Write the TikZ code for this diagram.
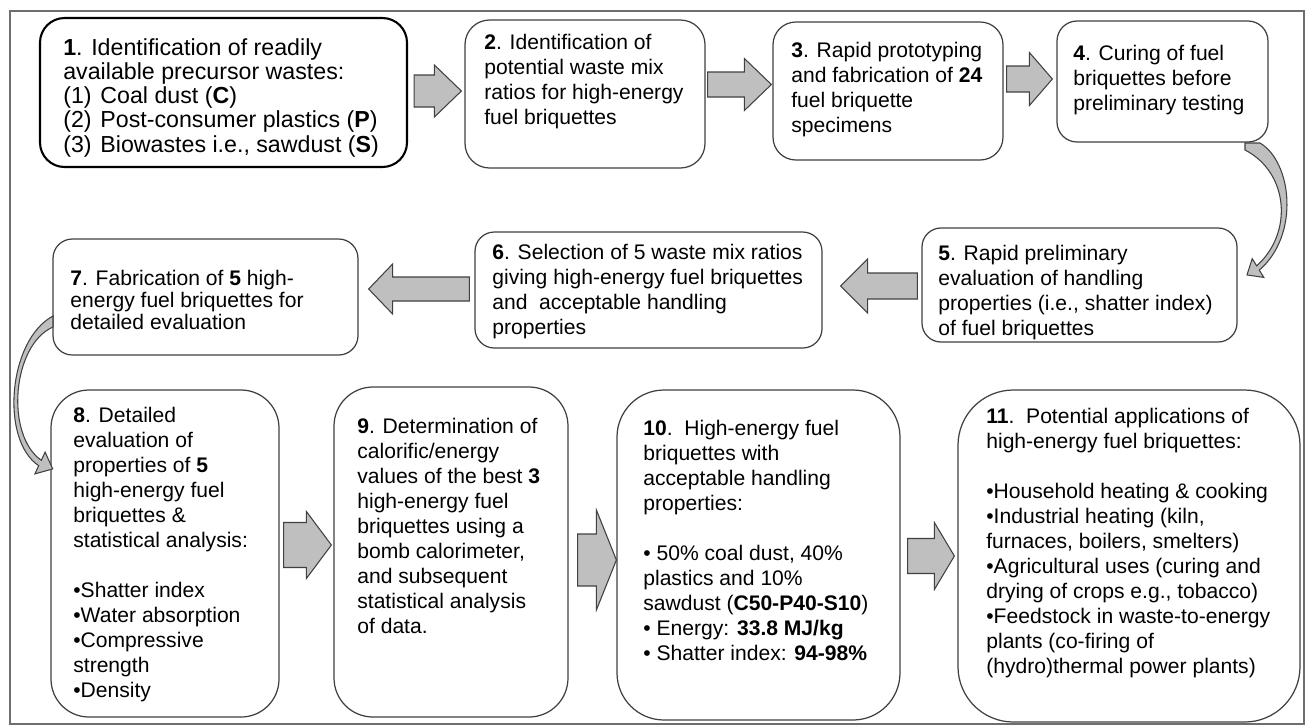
\documentclass[tikz,border=0pt]{standalone}
\usepackage{fontspec}
\setmainfont{Liberation Sans}
\usetikzlibrary{calc,fit}

\definecolor{boxline}{RGB}{64,64,64}
\definecolor{arrowgray}{RGB}{191,191,191}
\definecolor{framegray}{RGB}{110,110,110}
\def\px{0.569pt}

\tikzset{
  stepbox/.style={draw=boxline, line width=0.7pt, fill=white, inner sep=0pt},
  txt/.style={anchor=north west, align=left, inner sep=0pt, font=\fontsize{12}{14.2}\selectfont},
  blockarrow/.style={draw=boxline, line width=0.6pt, fill=arrowgray, line join=miter},
}

% block arrow: tail, target anchor, gap, shaft half, head half, head offset (px)
\newcommand{\fatarrow}[6]{%
  \coordinate (fa-s) at (#1);
  \coordinate (fa-t) at ($(#2 |- fa-s)+(#3,0)$);
  \draw[blockarrow] ([yshift=#4*\px]fa-s) -- ([xshift=#6*\px,yshift=#4*\px]fa-t)
    -- ([xshift=#6*\px,yshift=#5*\px]fa-t) -- (fa-t)
    -- ([xshift=#6*\px,yshift=-#5*\px]fa-t) -- ([xshift=#6*\px,yshift=-#4*\px]fa-t)
    -- ([yshift=-#4*\px]fa-s) -- cycle;}

\begin{document}
\begin{tikzpicture}[x=0.02cm,y=-0.02cm]
  \useasboundingbox (0,0) rectangle (1306,725);
  \draw[framegray, line width=0.6pt] (10,11) rectangle (1304,724);

  % first row
  \node[stepbox, draw=black, line width=1.2pt, rounded corners=14pt, fit={(40,18) (407,167)}] (b1) {};
  \node[stepbox, rounded corners=14pt, fit={(465,20) (705,168)}] (b2) {};
  \node[stepbox, rounded corners=13pt, fit={(773,22) (1003,160)}] (b3) {};
  \node[stepbox, rounded corners=11.4pt, fit={(1057,21) (1268,142)}] (b4) {};

  % second row
  \node[stepbox, rounded corners=10.8pt, fit={(922,228) (1237,342)}] (b5) {};
  \node[stepbox, rounded corners=11pt, fit={(475,232) (822,348)}] (b6) {};
  \node[stepbox, rounded corners=11pt, fit={(53,239) (358,355)}] (b7) {};

  % third row
  \node[stepbox, rounded corners=21.6pt, fit={(51,390) (279,717)}] (b8) {};
  \node[stepbox, rounded corners=22.2pt, fit={(334,387) (568,717)}] (b9) {};
  \node[stepbox, rounded corners=26.8pt, fit={(617,390) (900,720)}] (b10) {};
  \node[stepbox, rounded corners=31.5pt, fit={(958,390) (1300,722)}] (b11) {};

  % texts
  \node[txt, font=\fontsize{13.2}{13.8}\selectfont] (t1) at (63,38)
    {\textbf{1}. Identification of readily\\available precursor wastes:\\
     \makebox[1.6em][l]{(1)}Coal dust (\textbf{C})\\
     \makebox[1.6em][l]{(2)}Post-consumer plastics (\textbf{P})\\
     \makebox[1.6em][l]{(3)}Biowastes i.e., sawdust (\textbf{S})};
  \node[txt] (t2) at (484,34)
    {\textbf{2}. Identification of\\potential waste mix\\ratios for high-energy\\fuel briquettes};
  \node[txt] (t3) at (791,42)
    {\textbf{3}. Rapid prototyping\\and fabrication of \textbf{24}\\fuel briquette\\specimens};
  \node[txt] (t4) at (1073,45)
    {\textbf{4}. Curing of fuel\\briquettes before\\preliminary testing};
  \node[txt] (t5) at (938,245)
    {\textbf{5}. Rapid preliminary\\evaluation of handling\\properties (i.e., shatter index)\\of fuel briquettes};
  \node[txt] (t6) at (492,244)
    {\textbf{6}. Selection of 5 waste mix ratios\\giving high-energy fuel briquettes\\and\ \ acceptable handling\\properties};
  \node[txt, font=\fontsize{12}{12.6}\selectfont] (t7) at (70,270)
    {\textbf{7}. Fabrication of \textbf{5} high-\\energy fuel briquettes for\\detailed evaluation};
  \node[txt] (t8) at (73,407)
    {\textbf{8}. Detailed\\evaluation of\\properties of \textbf{5}\\high-energy fuel\\briquettes \&\\statistical analysis:\\[14.2pt]
     •Shatter index\\•Water absorption\\•Compressive\\strength\\•Density};
  \node[txt] (t9) at (357,418)
    {\textbf{9}. Determination of\\calorific/energy\\values of the best \textbf{3}\\high-energy fuel\\briquettes using a\\bomb calorimeter,\\and subsequent\\statistical analysis\\of data.};
  \node[txt] (t10) at (643,420)
    {\textbf{10}.\ \ High-energy fuel\\briquettes with\\acceptable handling\\properties:\\[14.2pt]
     • 50\% coal dust, 40\%\\plastics and 10\%\\sawdust (\textbf{C50-P40-S10})\\
     • Energy: \textbf{33.8 MJ/kg}\\• Shatter index: \textbf{94-98\%}};
  \node[txt] (t11) at (986,408)
    {\textbf{11}.\ \ Potential applications of\\high-energy fuel briquettes:\\[14.2pt]
     •Household heating \& cooking\\•Industrial heating (kiln,\\furnaces, boilers, smelters)\\
     •Agricultural uses (curing and\\drying of crops e.g., tobacco)\\
     •Feedstock in waste-to-energy\\plants (co-firing of\\(hydro)thermal power plants)};

  % straight block arrows
  \fatarrow{$(b1.east)+(6,-1.5)$}{b2.west}{-3}{16}{26}{-27}
  \fatarrow{$(b2.east)+(2,-9.5)$}{b3.west}{-1}{12.5}{26}{-27}
  \fatarrow{$(b3.east)+(3,-12)$}{b4.west}{-4}{13}{26.5}{-23}
  \fatarrow{$(b5.west)+(-4,1)$}{b6.east}{18}{13}{27}{27}
  \fatarrow{$(b6.west)+(-5,-1)$}{b7.east}{10}{12}{25}{24}
  \fatarrow{$(b8.east)+(4,-8.5)$}{b9.west}{-2}{22.5}{33.5}{-25}
  \fatarrow{$(b9.east)+(9,8)$}{b10.west}{0}{26}{50}{-20}
  \fatarrow{$(b10.east)+(7,1)$}{b11.west}{-3}{17.5}{33.5}{-20}

  % curved arrow 4 -> 5
  \draw[blockarrow] (1260,143) .. controls (1292,162) and (1300,235) .. (1259.3,270.1)
    -- (1263.8,277.4) -- (1247,274.9) -- (1252.2,258.7) -- (1256.7,265.9)
    .. controls (1294,232) and (1288,172) .. (1245,150) -- (1245,143) -- cycle;

  % curved arrow 7 -> 8
  \draw[blockarrow] (53,316) .. controls (8,340) and (0,440) .. (38.7,465.7)
    -- (34.9,473.9) -- (52.7,468.9) -- (45.1,452.1) -- (41.3,460.3)
    .. controls (5,435) and (12,345) .. (53,327) -- cycle;
\end{tikzpicture}
\end{document}
